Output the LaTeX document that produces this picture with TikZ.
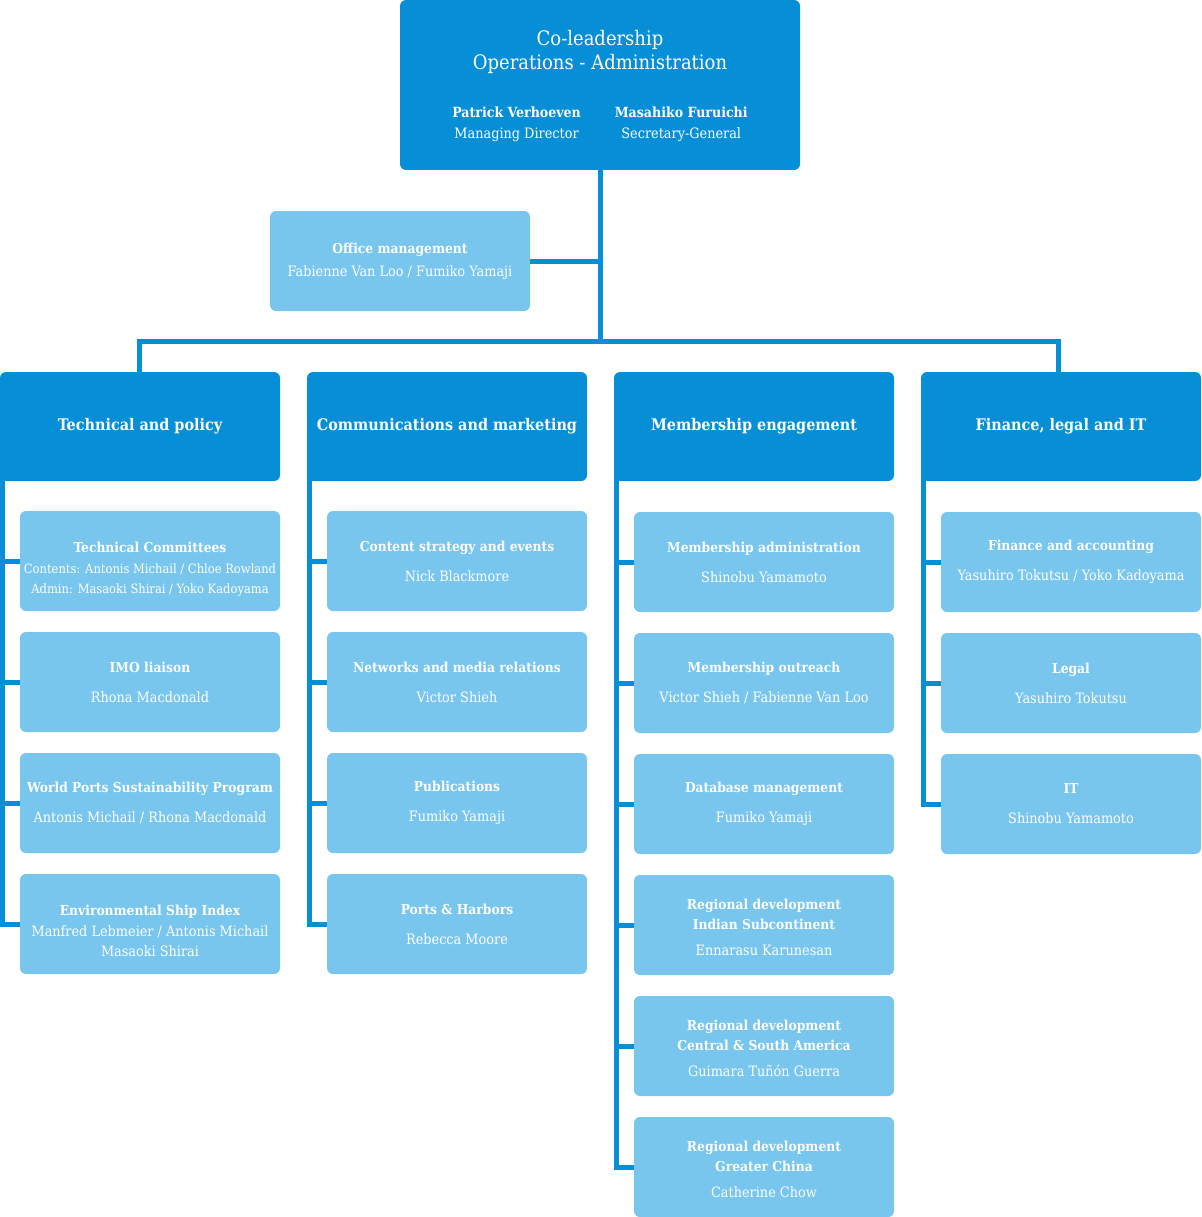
\documentclass[tikz,border=0pt]{standalone}
\usepackage{fontspec}
\setmainfont{DejaVu Serif Condensed}
\usepackage{xcolor}
\definecolor{dkblue}{HTML}{068FD6}
\definecolor{ltblue}{HTML}{78C6EE}
\newcommand\utitle[1]{{\bfseries\fontsize{13.7}{20}\selectfont #1}}

\tikzset{
  lead/.style={fill=dkblue, rounded corners=6pt, text=white, minimum width=400pt, minimum height=170pt, align=center, inner sep=0pt, font=\fontsize{20}{24}\selectfont},
  head/.style={fill=dkblue, rounded corners=6pt, text=white, minimum width=280pt, minimum height=109pt, inner sep=0pt, font=\bfseries\fontsize{16}{19}\selectfont},
  unit/.style={fill=ltblue, rounded corners=6pt, text=white, minimum width=260pt, minimum height=100pt, inner sep=0pt, align=center, font=\fontsize{14.3}{20}\selectfont},
  link/.style={draw=dkblue, line width=5pt}
}

\begin{document}
\begin{tikzpicture}[x=1pt,y=-1pt]
\useasboundingbox (0,0) rectangle (1201,1217);

% top of the chart
\node[lead] (lead) at (600,85) {\rule{0pt}{21pt}Co-leadership\\Operations - Administration\\[28pt]
  \fontsize{14.3}{21}\selectfont\begin{tabular}{@{}c@{\hspace{34pt}}c@{}}
  {\bfseries\fontsize{14}{21}\selectfont Patrick Verhoeven} & {\bfseries\fontsize{14}{21}\selectfont Masahiko Furuichi}\\
  Managing Director & Secretary-General
  \end{tabular}};
\node[unit] (office) at (400,261) {\utitle{Office management}\\[3pt]Fabienne Van Loo / Fumiko Yamaji};
\coordinate (hub) at (600,341);

% departments
\node[head] (tech) at (140,426.5) {Technical and policy};
\node[head] (comm) at (447,426.5) {Communications and marketing};
\node[head] (memb) at (754,426.5) {Membership engagement};
\node[head] (fin) at (1061,426.5) {Finance, legal and IT};

% technical and policy
\node[unit, font=\fontsize{12.8}{20}\selectfont] (tc1) at (150,561) {\rule{0pt}{26pt}\utitle{Technical Committees}\\[1pt]Contents: Antonis Michail / Chloe Rowland\\Admin: Masaoki Shirai / Yoko Kadoyama};
\node[unit] (tc2) at (150,682) {\utitle{IMO liaison}\\[10pt]Rhona Macdonald};
\node[unit] (tc3) at (150,803) {\utitle{World Ports Sustainability Program}\\[10pt]Antonis Michail / Rhona Macdonald};
\node[unit] (tc4) at (150,924) {\rule{0pt}{24pt}\utitle{Environmental Ship Index}\\[1pt]Manfred Lebmeier / Antonis Michail\\Masaoki Shirai};

% communications and marketing
\node[unit] (cm1) at (457,561) {\utitle{Content strategy and events}\\[10pt]Nick Blackmore};
\node[unit] (cm2) at (457,682) {\utitle{Networks and media relations}\\[10pt]Victor Shieh};
\node[unit] (cm3) at (457,803) {\utitle{Publications}\\[10pt]Fumiko Yamaji};
\node[unit] (cm4) at (457,924) {\utitle{Ports \& Harbors}\\[10pt]Rebecca Moore};

% membership engagement
\node[unit] (me1) at (764,562) {\utitle{Membership administration}\\[10pt]Shinobu Yamamoto};
\node[unit] (me2) at (764,683) {\utitle{Membership outreach}\\[10pt]Victor Shieh / Fabienne Van Loo};
\node[unit] (me3) at (764,804) {\utitle{Database management}\\[10pt]Fumiko Yamaji};
\node[unit] (me4) at (764,925) {\rule{0pt}{16pt}\utitle{Regional development}\\[0pt]\utitle{Indian Subcontinent}\\[6pt]Ennarasu Karunesan};
\node[unit] (me5) at (764,1046) {\rule{0pt}{16pt}\utitle{Regional development}\\[0pt]\utitle{Central \& South America}\\[6pt]Guimara Tuñón Guerra};
\node[unit] (me6) at (764,1167) {\rule{0pt}{16pt}\utitle{Regional development}\\[0pt]\utitle{Greater China}\\[6pt]Catherine Chow};

% finance, legal and IT
\node[unit] (fi1) at (1071,562) {\utitle{Finance and accounting}\\[10pt]Yasuhiro Tokutsu / Yoko Kadoyama};
\node[unit] (fi2) at (1071,683) {\utitle{Legal}\\[10pt]Yasuhiro Tokutsu};
\node[unit] (fi3) at (1071,804) {\utitle{IT}\\[10pt]Shinobu Yamamoto};

% connectors
\draw[link] (lead.south) -- (hub);
\draw[link] (office.east) -- (office.east -| hub);
\draw[link] ([xshift=-1pt]tech.north) |- (hub) -| ([xshift=-3pt]fin.north);

\draw[link] ([xshift=2.5pt,yshift=8pt]tech.south west) |- (tc4.west);
\foreach \n in {tc1,tc2,tc3}
  \draw[link] (\n.west -| 2.5,0) -- (\n.west);
\draw[link] ([xshift=2.5pt,yshift=8pt]comm.south west) |- (cm4.west);
\foreach \n in {cm1,cm2,cm3}
  \draw[link] (\n.west -| 309.5,0) -- (\n.west);
\draw[link] ([xshift=2.5pt,yshift=8pt]memb.south west) |- (me6.west);
\foreach \n in {me1,me2,me3,me4,me5}
  \draw[link] (\n.west -| 616.5,0) -- (\n.west);
\draw[link] ([xshift=2.5pt,yshift=8pt]fin.south west) |- (fi3.west);
\foreach \n in {fi1,fi2}
  \draw[link] (\n.west -| 923.5,0) -- (\n.west);
\end{tikzpicture}
\end{document}
